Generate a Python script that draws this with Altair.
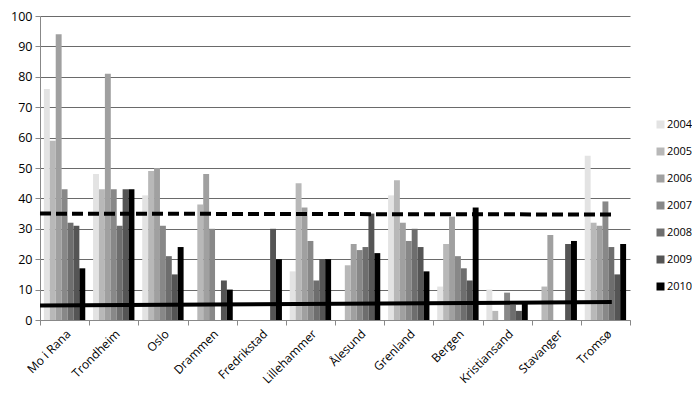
import altair as alt
import pandas as pd

cities = ["Mo i Rana", "Trondheim", "Oslo", "Drammen", "Fredrikstad", "Lillehammer",
          "Ålesund", "Grenland", "Bergen", "Kristiansand", "Stavanger", "Tromsø"]
years = ["2004", "2005", "2006", "2007", "2008", "2009", "2010"]

v2004 = [76, 48, 41, 0, 0, 16, 0, 41, 11, 10, 0, 54]
v2005 = [59, 43, 49, 38, 0, 45, 18, 46, 25, 3, 11, 32]
v2006 = [94, 81, 50, 48, 0, 37, 25, 32, 34, 0, 28, 31]
v2007 = [43, 43, 31, 30, 0, 26, 23, 26, 21, 9, 0, 39]
v2008 = [32, 31, 21, 0, 0, 13, 24, 30, 17, 5, 0, 24]
v2009 = [31, 43, 15, 13, 30, 20, 35, 24, 13, 3, 25, 15]
v2010 = [17, 43, 24, 10, 20, 20, 22, 16, 37, 6, 26, 25]

y_ticks = [0, 10, 20, 30, 40, 50, 60, 70, 80, 90, 100]

colors = ["#e3e3e3", "#b8b8b8", "#a0a0a0", "#888888", "#6e6e6e", "#555555", "#000000"]

# reference lines (start/end category, start/end value)
line_start = "Mo i Rana"
line_end = "Tromsø"
dashed_vals = [35, 34.7]
solid_vals = [4.8, 5.9]

series = [v2004, v2005, v2006, v2007, v2008, v2009, v2010]
rows = []
for yr, vals in zip(years, series):
    for c, v in zip(cities, vals):
        rows.append({"city": c, "year": yr, "value": v})
df = pd.DataFrame(rows)

dashed_df = pd.DataFrame({"start": [line_start], "end": [line_end],
                          "y1": [dashed_vals[0]], "y2": [dashed_vals[1]]})
solid_df = pd.DataFrame({"start": [line_start], "end": [line_end],
                         "y1": [solid_vals[0]], "y2": [solid_vals[1]]})

FONT = "Open Sans"
x_scale = alt.Scale(domain=cities, paddingInner=0, paddingOuter=0)
y_scale = alt.Scale(domain=[0, 100], nice=False)

x_axis = alt.Axis(title=None, labelAngle=-45, labelAlign="right",
                  labelBaseline="top", labelPadding=3, tickBand="extent",
                  tickSize=5, tickColor="#888888", domainColor="#888888",
                  labelFont=FONT, labelFontSize=12, labelColor="black",
                  labelOverlap=False, grid=False)
y_axis = alt.Axis(title=None, values=y_ticks, tickSize=5,
                  tickColor="#888888", domainColor="#888888",
                  gridColor="#6a6a6a", gridWidth=1, labelPadding=3,
                  labelFont=FONT, labelFontSize=12.5, labelColor="black",
                  labelOverlap=False)

bars = alt.Chart(df).mark_bar().encode(
    x=alt.X("city:N", scale=x_scale, sort=cities, axis=x_axis),
    xOffset=alt.XOffset("year:N", sort=years,
                        scale=alt.Scale(paddingInner=0, paddingOuter=0.66)),
    y=alt.Y("value:Q", scale=y_scale, axis=y_axis),
    color=alt.Color("year:N", sort=years,
                    scale=alt.Scale(domain=years, range=colors),
                    legend=alt.Legend(title=None, orient="none", legendX=615, legendY=103,
                                      symbolType="square", symbolSize=64,
                                      symbolStrokeWidth=0, labelFont=FONT,
                                      labelFontSize=11, labelColor="black",
                                      rowPadding=15, padding=0, labelOffset=1)),
)

dashed = alt.Chart(dashed_df).mark_rule(strokeWidth=4, strokeDash=[11, 5], color="black").encode(
    x=alt.X("start:N", bandPosition=0, scale=x_scale, axis=x_axis),
    x2=alt.X2("end:N", bandPosition=0.65),
    y=alt.Y("y1:Q", scale=y_scale, axis=y_axis),
    y2=alt.Y2("y2:Q"),
)

solid = alt.Chart(solid_df).mark_rule(strokeWidth=4, color="black").encode(
    x=alt.X("start:N", bandPosition=0, scale=x_scale, axis=x_axis),
    x2=alt.X2("end:N", bandPosition=0.63),
    y=alt.Y("y1:Q", scale=y_scale, axis=y_axis),
    y2=alt.Y2("y2:Q"),
)

chart = alt.layer(bars, dashed, solid).properties(
    width=590, height=304,
    autosize=alt.AutoSizeParams(type="none"),
    padding={"left": 32, "top": 8, "right": 62, "bottom": 69},
).configure_view(stroke=None)

chart.save("out.html", embed_options={"renderer": "svg", "actions": False})
